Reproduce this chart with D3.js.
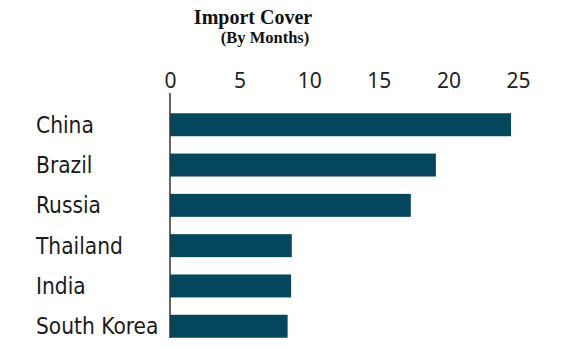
<!DOCTYPE html>
<html>
<head>
<meta charset="utf-8">
<script src="https://cdn.jsdelivr.net/npm/d3@7"></script>
<style>
  body { margin: 0; background: #fff; }
</style>
</head>
<body>
<svg id="chart" width="575" height="348"></svg>
<script>
// chart data
var countries = ["China", "Brazil", "Russia", "Thailand", "India", "South Korea"];
var months = [24.5, 19.1, 17.3, 8.75, 8.7, 8.45];
var tickValues = [0, 5, 10, 15, 20, 25];

var svg = d3.select("#chart");

// scales
var x = d3.scaleLinear().domain([0, 25]).range([170, 518]);
var y = d3.scaleBand().domain(countries).range([104.6, 346.4]).paddingInner(0.43).paddingOuter(0.215);

// title
svg.append("text")
  .attr("x", 253).attr("y", 24)
  .attr("text-anchor", "middle")
  .style("font-family", "'Liberation Serif', serif")
  .style("font-weight", "bold")
  .style("font-size", "20px")
  .style("fill", "#111")
  .text("Import Cover");

svg.append("text")
  .attr("x", 265).attr("y", 43)
  .attr("text-anchor", "middle")
  .style("font-family", "'Liberation Serif', serif")
  .style("font-weight", "bold")
  .style("font-size", "16.5px")
  .style("fill", "#111")
  .text("(By Months)");

// top axis labels
var xAxis = d3.axisTop(x).tickValues(tickValues).tickSize(0).tickPadding(0);
var gx = svg.append("g").attr("transform", "translate(0,88)").call(xAxis);
gx.select(".domain").remove();
gx.selectAll("text")
  .style("font-family", "'Noto Sans', sans-serif")
  .style("font-size", "21px")
  .style("fill", "#222");

// bars
svg.selectAll("rect.bar")
  .data(countries)
  .enter().append("rect")
  .attr("class", "bar")
  .attr("x", x(0))
  .attr("y", function(d) { return y(d); })
  .attr("width", function(d, i) { return x(months[i]) - x(0); })
  .attr("height", y.bandwidth())
  .style("fill", "#04475d");

// vertical zero line
svg.append("line")
  .attr("x1", x(0)).attr("x2", x(0))
  .attr("y1", 93).attr("y2", 338)
  .style("stroke", "#333")
  .style("stroke-width", 1.5);

// country labels
svg.selectAll("text.country")
  .data(countries)
  .enter().append("text")
  .attr("class", "country")
  .attr("x", 36)
  .attr("y", function(d) { return y(d) + y.bandwidth() / 2; })
  .attr("dy", "0.36em")
  .style("font-family", "'DejaVu Sans Condensed', sans-serif")
  .style("font-size", "22.5px")
  .style("fill", "#1a1a1a")
  .text(function(d) { return d; });
</script>
</body>
</html>
